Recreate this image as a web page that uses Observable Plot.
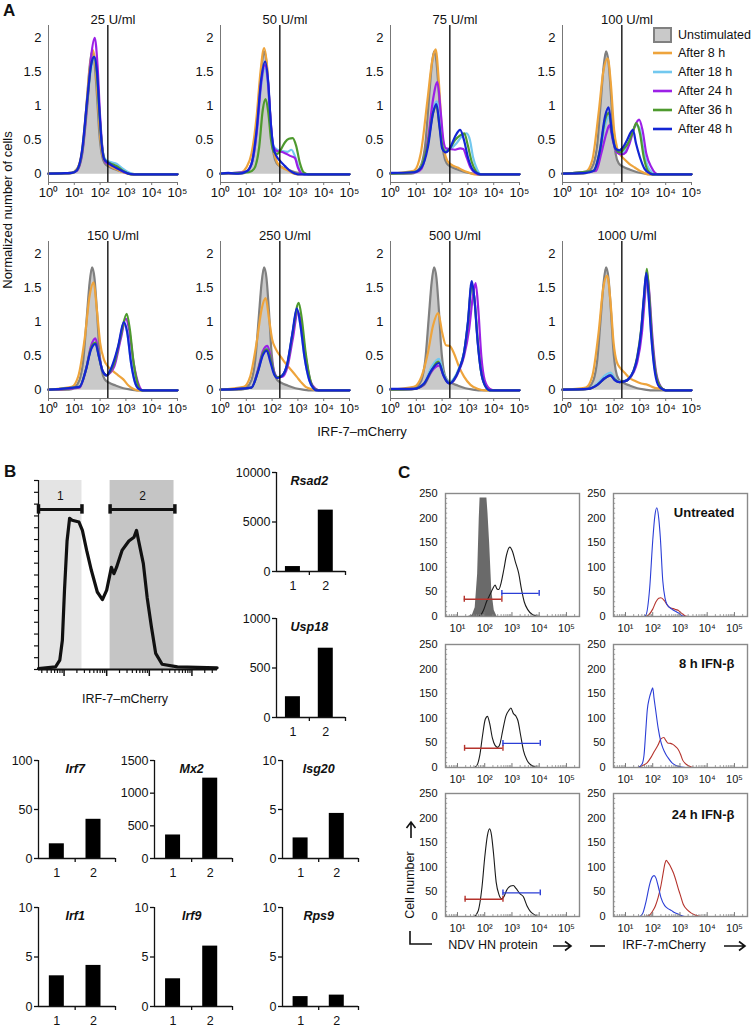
<!DOCTYPE html>
<html><head><meta charset="utf-8">
<script src="https://cdn.jsdelivr.net/npm/d3@7"></script>
<script src="https://cdn.jsdelivr.net/npm/@observablehq/plot@0.6"></script>
<style>
body{margin:0;background:#fff;}
#fig{position:relative;width:754px;height:1028px;overflow:hidden;background:#fff;font-family:"Liberation Sans",Arial,Helvetica,sans-serif;}
</style></head><body><div id="fig"></div>
<script>
// ---------------- DATA ----------------
// Panel A: x values are log10(IRF-7-mCherry), y = normalized number of cells
const doses = ["25 U/ml","50 U/ml","75 U/ml","100 U/ml","150 U/ml","250 U/ml","500 U/ml","1000 U/ml"];
const seriesNames = ["Unstimulated","After 8 h","After 18 h","After 24 h","After 36 h","After 48 h"];
const seriesColors = ["#808080","#eea43c","#72c8ef","#9c20e6","#4e9a2e","#1325d4"];
const unstimFill = "#c9c9c9";
const gateA = 2.3;
const aYTicks = [0,0.5,1,1.5,2];
const aXTicks = [0,1,2,3,4,5];

const unstim = [[0,0.005],[0.8,0.01],[1.0,0.04],[1.2,0.15],[1.35,0.45],[1.48,1.05],[1.6,1.6],[1.69,1.8],[1.78,1.65],[1.88,1.15],[1.97,0.6],[2.06,0.3],[2.18,0.16],[2.35,0.11],[2.6,0.07],[2.9,0.03],[3.2,0.01],[3.4,0],[5,0]];

const a25 = {
 h8:[[0,0.01],[0.9,0.02],[1.1,0.07],[1.3,0.35],[1.45,0.9],[1.6,1.55],[1.72,1.82],[1.82,1.6],[1.92,1.05],[2.02,0.5],[2.12,0.25],[2.3,0.15],[2.6,0.08],[2.9,0.03],[3.2,0],[5,0]],
 h18:[[0,0.01],[0.9,0.02],[1.1,0.06],[1.3,0.3],[1.5,1.05],[1.65,1.55],[1.77,1.7],[1.88,1.45],[1.98,0.85],[2.08,0.4],[2.2,0.22],[2.4,0.18],[2.65,0.15],[2.85,0.09],[3.1,0.03],[3.35,0],[5,0]],
 h24:[[0,0.01],[0.9,0.02],[1.1,0.05],[1.3,0.28],[1.5,1.0],[1.66,1.75],[1.79,2.0],[1.9,1.6],[2.0,0.85],[2.1,0.35],[2.2,0.18],[2.4,0.14],[2.7,0.08],[3.0,0.02],[3.3,0],[5,0]],
 h36:[[0,0.01],[0.9,0.02],[1.1,0.06],[1.3,0.32],[1.5,1.05],[1.65,1.6],[1.77,1.72],[1.88,1.45],[1.98,0.85],[2.08,0.4],[2.2,0.2],[2.4,0.16],[2.65,0.12],[2.9,0.05],[3.2,0],[5,0]],
 h48:[[0,0.01],[0.5,0.015],[0.9,0.02],[1.1,0.06],[1.3,0.35],[1.5,1.1],[1.65,1.6],[1.77,1.72],[1.88,1.5],[1.98,0.9],[2.06,0.45],[2.16,0.22],[2.3,0.17],[2.5,0.12],[2.7,0.08],[2.9,0.04],[3.1,0.01],[3.3,0],[5,0]]
};
const a50 = {
 h8:[[0,0.01],[0.8,0.03],[1.0,0.1],[1.2,0.3],[1.4,0.85],[1.55,1.5],[1.69,1.85],[1.8,1.6],[1.9,1.0],[2.0,0.5],[2.12,0.25],[2.3,0.12],[2.6,0.06],[2.85,0.01],[3,0],[5,0]],
 h18:[[0,0.01],[1.0,0.04],[1.2,0.15],[1.4,0.6],[1.58,1.3],[1.72,1.55],[1.84,1.3],[1.95,0.7],[2.05,0.42],[2.2,0.36],[2.4,0.34],[2.6,0.33],[2.75,0.36],[2.9,0.25],[3.05,0.08],[3.2,0],[5,0]],
 h24:[[0,0.01],[1.0,0.04],[1.2,0.15],[1.4,0.6],[1.58,1.35],[1.72,1.6],[1.84,1.35],[1.95,0.75],[2.05,0.4],[2.2,0.34],[2.35,0.33],[2.5,0.31],[2.7,0.27],[2.88,0.24],[3.0,0.1],[3.15,0.01],[3.25,0],[5,0]],
 h36:[[0,0.01],[1.1,0.03],[1.3,0.08],[1.5,0.4],[1.64,0.95],[1.75,1.1],[1.86,0.88],[1.96,0.5],[2.06,0.33],[2.2,0.3],[2.35,0.37],[2.5,0.47],[2.65,0.52],[2.8,0.53],[2.93,0.42],[3.08,0.16],[3.22,0.03],[3.4,0],[5,0]],
 h48:[[0,0.01],[0.3,0.02],[0.7,0.01],[1.0,0.04],[1.2,0.15],[1.4,0.65],[1.58,1.4],[1.73,1.65],[1.85,1.35],[1.95,0.75],[2.05,0.4],[2.15,0.28],[2.3,0.2],[2.5,0.12],[2.7,0.05],[2.9,0.01],[3.0,0],[5,0]]
};
const a75 = {
 h8:[[0,0.01],[0.9,0.05],[1.17,0.3],[1.43,1.08],[1.62,1.67],[1.75,1.83],[1.88,1.32],[2.0,0.59],[2.2,0.2],[2.4,0.13],[2.6,0.1],[2.8,0.06],[3.0,0.03],[3.25,0],[5,0]],
 h18:[[0,0.01],[1.0,0.04],[1.2,0.12],[1.45,0.45],[1.65,0.95],[1.8,1.07],[1.93,0.7],[2.03,0.42],[2.15,0.35],[2.35,0.38],[2.55,0.45],[2.75,0.55],[2.95,0.6],[3.08,0.5],[3.2,0.25],[3.35,0.08],[3.5,0],[5,0]],
 h24:[[0,0.01],[1.0,0.03],[1.2,0.08],[1.45,0.5],[1.65,1.1],[1.82,1.35],[1.95,0.9],[2.05,0.5],[2.15,0.38],[2.3,0.37],[2.5,0.36],[2.7,0.38],[2.82,0.37],[2.95,0.25],[3.1,0.1],[3.3,0.02],[3.4,0],[5,0]],
 h36:[[0,0.01],[1.0,0.04],[1.2,0.12],[1.45,0.45],[1.65,0.9],[1.78,1.0],[1.9,0.7],[2.02,0.4],[2.14,0.33],[2.3,0.38],[2.5,0.5],[2.7,0.57],[2.86,0.6],[3.0,0.42],[3.15,0.18],[3.3,0.05],[3.45,0],[5,0]],
 h48:[[0,0.02],[0.9,0.03],[1.2,0.1],[1.45,0.4],[1.65,0.9],[1.78,1.03],[1.9,0.7],[2.0,0.38],[2.14,0.32],[2.3,0.38],[2.5,0.55],[2.7,0.65],[2.85,0.5],[3.0,0.25],[3.2,0.06],[3.4,0.01],[3.5,0],[5,0]]
};
const a100 = {
 h8:[[0,0.01],[0.9,0.04],[1.15,0.2],[1.4,0.9],[1.58,1.5],[1.75,1.7],[1.88,1.3],[2.0,0.65],[2.12,0.38],[2.25,0.28],[2.4,0.22],[2.6,0.15],[2.8,0.1],[3.0,0.05],[3.18,0.02],[3.3,0],[5,0]],
 h18:[[0,0.01],[1.2,0.05],[1.45,0.3],[1.65,0.72],[1.8,0.85],[1.93,0.55],[2.07,0.34],[2.25,0.3],[2.45,0.35],[2.65,0.55],[2.85,0.72],[2.98,0.68],[3.12,0.4],[3.3,0.12],[3.5,0.02],[3.6,0],[5,0]],
 h24:[[0,0.01],[1.3,0.05],[1.5,0.3],[1.7,0.6],[1.82,0.72],[1.95,0.5],[2.1,0.32],[2.3,0.29],[2.45,0.32],[2.6,0.45],[2.8,0.7],[2.97,0.8],[3.1,0.65],[3.25,0.3],[3.45,0.1],[3.7,0],[5,0]],
 h36:[[0,0.01],[1.2,0.05],[1.45,0.35],[1.65,0.8],[1.8,0.9],[1.93,0.58],[2.07,0.36],[2.22,0.32],[2.4,0.38],[2.6,0.5],[2.75,0.65],[2.86,0.75],[3.0,0.6],[3.15,0.25],[3.3,0.06],[3.5,0],[5,0]],
 h48:[[0,0.01],[0.9,0.02],[1.2,0.05],[1.45,0.35],[1.65,0.85],[1.79,0.98],[1.92,0.6],[2.05,0.38],[2.2,0.35],[2.35,0.4],[2.5,0.5],[2.73,0.65],[2.85,0.45],[3.0,0.25],[3.18,0.08],[3.4,0.01],[3.5,0],[5,0]]
};
const a150 = {
 h8:[[0,0.01],[0.9,0.05],[1.15,0.2],[1.4,0.75],[1.6,1.4],[1.75,1.58],[1.87,1.2],[2.0,0.7],[2.15,0.45],[2.3,0.35],[2.5,0.28],[2.7,0.22],[2.9,0.16],[3.1,0.07],[3.3,0.02],[3.44,0],[5,0]],
 h18:[[0,0.01],[1.2,0.05],[1.45,0.3],[1.65,0.62],[1.82,0.7],[1.95,0.5],[2.1,0.28],[2.25,0.22],[2.4,0.28],[2.55,0.42],[2.72,0.65],[2.92,0.98],[3.05,0.85],[3.2,0.4],[3.35,0.12],[3.5,0.02],[3.65,0],[5,0]],
 h24:[[0,0.01],[1.2,0.04],[1.45,0.3],[1.65,0.65],[1.82,0.76],[1.95,0.52],[2.1,0.28],[2.25,0.22],[2.4,0.26],[2.55,0.35],[2.8,0.75],[3.0,1.05],[3.12,0.9],[3.3,0.4],[3.5,0.08],[3.65,0],[5,0]],
 h36:[[0,0.01],[1.2,0.05],[1.45,0.3],[1.65,0.62],[1.82,0.7],[1.95,0.5],[2.1,0.28],[2.25,0.22],[2.4,0.28],[2.55,0.4],[2.8,0.8],[3.03,1.12],[3.15,0.9],[3.3,0.4],[3.45,0.1],[3.6,0],[5,0]],
 h48:[[0,0.01],[1.2,0.05],[1.45,0.3],[1.65,0.6],[1.82,0.68],[1.95,0.5],[2.1,0.28],[2.25,0.22],[2.4,0.3],[2.55,0.45],[2.7,0.65],[2.92,1.0],[3.05,0.85],[3.2,0.4],[3.35,0.12],[3.5,0.02],[3.65,0],[5,0]]
};
const a250 = {
 h8:[[0,0.01],[0.9,0.05],[1.15,0.2],[1.4,0.7],[1.6,1.2],[1.75,1.35],[1.88,1.05],[2.0,0.75],[2.15,0.6],[2.34,0.49],[2.55,0.38],[2.73,0.3],[2.95,0.2],[3.12,0.12],[3.3,0.05],[3.5,0.02],[3.77,0],[5,0]],
 h18:[[0,0.01],[1.2,0.04],[1.45,0.28],[1.65,0.55],[1.8,0.62],[1.95,0.45],[2.08,0.25],[2.2,0.19],[2.4,0.22],[2.6,0.4],[2.8,0.85],[2.96,1.18],[3.1,0.95],[3.25,0.5],[3.44,0.15],[3.6,0.03],[3.75,0],[5,0]],
 h24:[[0,0.01],[1.2,0.04],[1.45,0.3],[1.65,0.58],[1.82,0.65],[1.95,0.48],[2.1,0.25],[2.22,0.19],[2.4,0.2],[2.6,0.35],[2.8,0.75],[3.0,1.15],[3.12,1.0],[3.3,0.5],[3.5,0.12],[3.7,0.02],[3.8,0],[5,0]],
 h36:[[0,0.01],[1.2,0.04],[1.45,0.28],[1.65,0.55],[1.8,0.6],[1.95,0.45],[2.08,0.25],[2.2,0.19],[2.4,0.22],[2.6,0.4],[2.8,0.85],[3.03,1.28],[3.15,1.05],[3.3,0.55],[3.48,0.15],[3.65,0.02],[3.8,0],[5,0]],
 h48:[[0,0.01],[1.2,0.04],[1.45,0.27],[1.65,0.52],[1.79,0.58],[1.93,0.42],[2.07,0.24],[2.2,0.18],[2.38,0.21],[2.58,0.38],[2.78,0.82],[2.96,1.2],[3.1,0.95],[3.25,0.5],[3.44,0.15],[3.6,0.03],[3.7,0],[5,0]]
};
const a500 = {
 h8:[[0,0.01],[0.9,0.05],[1.2,0.2],[1.45,0.55],[1.65,0.95],[1.85,1.13],[2.0,0.85],[2.15,0.66],[2.3,0.65],[2.45,0.55],[2.65,0.35],[2.85,0.2],[3.1,0.08],[3.4,0.02],[3.65,0],[5,0]],
 h18:[[0,0.01],[0.9,0.02],[1.3,0.1],[1.6,0.35],[1.88,0.46],[2.05,0.25],[2.2,0.14],[2.3,0.12],[2.45,0.17],[2.65,0.32],[2.85,0.56],[3.0,0.98],[3.15,1.55],[3.25,1.35],[3.38,0.72],[3.5,0.3],[3.65,0.08],[3.85,0],[5,0]],
 h24:[[0,0.01],[0.9,0.02],[1.3,0.08],[1.6,0.28],[1.88,0.36],[2.05,0.22],[2.2,0.12],[2.3,0.1],[2.45,0.14],[2.65,0.28],[2.85,0.5],[3.05,0.9],[3.2,1.4],[3.3,1.57],[3.4,1.2],[3.52,0.5],[3.65,0.15],[3.85,0.02],[4,0],[5,0]],
 h36:[[0,0.01],[0.9,0.02],[1.3,0.09],[1.6,0.3],[1.85,0.42],[2.05,0.23],[2.2,0.12],[2.3,0.1],[2.45,0.15],[2.65,0.3],[2.85,0.55],[3.0,0.98],[3.15,1.55],[3.25,1.35],[3.38,0.72],[3.5,0.3],[3.65,0.08],[3.85,0],[5,0]],
 h48:[[0,0.02],[0.9,0.02],[1.3,0.1],[1.6,0.3],[1.88,0.4],[2.05,0.22],[2.2,0.12],[2.3,0.1],[2.45,0.15],[2.65,0.3],[2.85,0.55],[3.0,1.0],[3.15,1.6],[3.25,1.35],[3.38,0.7],[3.5,0.3],[3.65,0.08],[3.85,0],[5,0]]
};
const a1000 = {
 h8:[[0,0.01],[0.9,0.04],[1.15,0.2],[1.4,0.85],[1.58,1.5],[1.73,1.68],[1.86,1.3],[1.98,0.7],[2.1,0.42],[2.25,0.32],[2.4,0.26],[2.6,0.18],[2.8,0.14],[3.05,0.1],[3.3,0.08],[3.55,0.04],[3.8,0.02],[4.0,0],[5,0]],
 h18:[[0,0.01],[1.0,0.02],[1.35,0.1],[1.65,0.22],[1.86,0.26],[2.02,0.18],[2.2,0.13],[2.4,0.14],[2.55,0.17],[2.75,0.28],[2.9,0.45],[3.05,0.85],[3.15,1.3],[3.25,1.7],[3.33,1.4],[3.45,0.75],[3.6,0.25],[3.8,0.05],[4,0],[5,0]],
 h24:[[0,0.01],[1.0,0.02],[1.35,0.08],[1.65,0.18],[1.86,0.22],[2.02,0.16],[2.2,0.12],[2.4,0.13],[2.55,0.16],[2.75,0.26],[2.9,0.42],[3.08,0.85],[3.18,1.3],[3.28,1.7],[3.36,1.45],[3.48,0.8],[3.62,0.28],[3.8,0.06],[4,0],[5,0]],
 h36:[[0,0.01],[1.0,0.02],[1.35,0.08],[1.65,0.18],[1.86,0.22],[2.02,0.16],[2.2,0.12],[2.4,0.13],[2.55,0.16],[2.75,0.28],[2.9,0.5],[3.05,0.9],[3.17,1.4],[3.27,1.78],[3.35,1.45],[3.47,0.75],[3.62,0.24],[3.8,0.05],[4,0],[5,0]],
 h48:[[0,0.01],[1.0,0.02],[1.35,0.08],[1.65,0.18],[1.86,0.22],[2.02,0.15],[2.2,0.12],[2.4,0.13],[2.55,0.16],[2.75,0.28],[2.9,0.48],[3.05,0.88],[3.15,1.35],[3.25,1.72],[3.33,1.42],[3.44,0.8],[3.55,0.35],[3.7,0.08],[3.85,0.02],[4,0],[5,0]]
};
const aCurves = [a25,a50,a75,a100,a150,a250,a500,a1000];

// Panel B histogram (x = log10 position, y = % of max)
const bHist = [[0.4,0.5],[0.8,1.4],[0.9,5],[0.96,15.5],[1.01,42],[1.07,68],[1.13,80],[1.19,79],[1.35,78],[1.43,73.6],[1.53,63],[1.64,52.5],[1.78,41],[1.9,37],[2.0,42],[2.11,54],[2.17,50.7],[2.23,54],[2.36,63],[2.52,68],[2.64,70],[2.7,73.6],[2.75,68],[2.86,56],[2.95,38],[3.05,22.5],[3.15,8.5],[3.3,2.8],[3.66,1.4],[4.59,0.9]];
const bGateNames = ["1","2"];
const bGateLo = [0.4, 2.08];
const bGateHi = [1.42, 3.6];
const bGateLevel = 84.7;
const bGateFill = ["#e4e4e4","#c5c5c5"];

// Panel B bar charts
const bGenes = ["Rsad2","Usp18","Irf7","Mx2","Isg20","Irf1","Irf9","Rps9"];
const bGroup1 = [500, 210, 15, 360, 2.1, 3.1, 2.8, 1.0];
const bGroup2 = [6200, 700, 40, 1230, 4.6, 4.15, 6.1, 1.15];
const bMax = [10000, 1000, 100, 1500, 10, 10, 10, 10];
const bTicks = [[0,5000,10000],[0,500,1000],[0,50,100],[0,500,1000,1500],[0,5,10],[0,5,10],[0,5,10],[0,5,10]];

// Panel C (x = log10 fluorescence, y = cell number)
const cYTicks = [0,50,100,150,200,250];
const cXTicks = [1,2,3,4,5];
const cUntreatedFill = [[1.4,0],[1.55,3],[1.65,18],[1.74,86],[1.8,200],[1.83,241],[2.08,241],[2.12,210],[2.18,150],[2.26,52],[2.35,12],[2.45,0]];
const cNdv1 = [[0.6,0],[1.75,0],[1.84,2],[1.95,12],[2.08,32],[2.2,45],[2.3,57],[2.38,64],[2.45,56],[2.52,55],[2.6,68],[2.7,95],[2.8,125],[2.92,141],[3.02,132],[3.12,112],[3.25,87],[3.35,55],[3.45,30],[3.58,14],[3.75,4],[3.9,1],[4.05,0],[5.4,0]];
const cNdv2 = [[0.6,0],[1.6,0],[1.72,5],[1.82,25],[1.92,65],[2.02,98],[2.1,104],[2.18,90],[2.28,60],[2.38,45],[2.48,41],[2.56,48],[2.66,75],[2.78,105],[2.9,117],[2.96,121],[3.05,110],[3.15,104],[3.22,95],[3.32,65],[3.42,35],[3.55,15],[3.7,5],[3.85,1],[4.0,0],[5.4,0]];
const cNdv3 = [[0.6,0],[1.6,0],[1.75,10],[1.9,60],[2.0,120],[2.1,165],[2.18,178],[2.25,165],[2.32,130],[2.42,70],[2.52,45],[2.62,36],[2.7,40],[2.82,55],[2.95,62],[3.05,63],[3.15,57],[3.3,46],[3.42,40],[3.55,22],[3.68,10],[3.82,4],[3.98,0],[5.4,0]];
const cRedGate = [[1.25,2.63,35],[1.26,2.67,39],[1.28,2.67,35]];
const cBlueGate = [[2.63,4.0,47],[2.67,4.04,49],[2.67,4.04,48]];
const cIrfBlue1 = [[0.6,0],[1.65,0],[1.75,3],[1.89,59],[2.0,154],[2.08,205],[2.15,221],[2.22,200],[2.28,160],[2.37,72],[2.45,38],[2.52,25],[2.7,15],[2.85,10],[2.95,7],[3.1,1],[3.2,0],[5.4,0]];
const cIrfRed1 = [[0.6,0],[1.75,0],[1.85,3],[2.0,15],[2.12,30],[2.22,37],[2.3,38],[2.43,32],[2.55,22],[2.63,18],[2.75,16],[2.85,14],[2.95,12],[3.03,8],[3.1,5],[3.2,1],[3.3,0],[5.4,0]];
const cIrfBlue2 = [[0.6,0],[1.45,0],[1.6,6],[1.68,25],[1.74,70],[1.8,117],[1.87,140],[1.95,155],[2.0,162],[2.05,140],[2.1,120],[2.2,80],[2.3,52],[2.37,40],[2.47,28],[2.56,20],[2.7,10],[2.85,4],[3.05,1],[3.2,0],[5.4,0]];
const cIrfRed2 = [[0.6,0],[1.44,0],[1.67,5],[1.8,10],[1.93,20],[2.05,32],[2.19,45],[2.3,58],[2.41,61],[2.48,55],[2.55,50],[2.65,49],[2.74,47],[2.85,42],[2.93,37],[3.02,27],[3.1,15],[3.2,8],[3.3,4],[3.52,0],[5.4,0]];
const cIrfBlue3 = [[0.6,0],[1.5,0],[1.62,5],[1.76,32],[1.89,66],[1.98,80],[2.05,83],[2.12,78],[2.2,62],[2.3,39],[2.44,22],[2.56,16],[2.69,12],[2.8,8],[2.93,5],[3.05,2],[3.18,0],[5.4,0]];
const cIrfRed3 = [[0.6,0],[1.7,0],[1.82,1],[1.92,5],[2.01,12],[2.1,22],[2.2,39],[2.3,62],[2.38,87],[2.45,108],[2.5,114],[2.56,110],[2.63,104],[2.7,96],[2.75,90],[2.87,70],[2.93,58],[3.0,46],[3.12,25],[3.3,12],[3.55,3],[3.8,0],[5.4,0]];
const cConditions = ["Untreated","8 h IFN-β","24 h IFN-β"];

// ---------------- RENDER ----------------
const FONT = '"Liberation Sans", Arial, Helvetica, sans-serif';
const fig = document.getElementById("fig");
const SUP = {0:"\u2070",1:"\u00B9",2:"\u00B2",3:"\u00B3",4:"\u2074",5:"\u2075"};
const pow10 = d => "10" + SUP[d];
const px = d => d[0], py = d => d[1];
function place(el, left, top) {
  el.style.position = "absolute";
  el.style.left = left + "px";
  el.style.top = top + "px";
  el.style.maxWidth = "none";
  fig.appendChild(el);
}
function st(fs) { return {fontFamily: FONT, fontSize: fs, background: "none", overflow: "visible", color: "#111"}; }

// Panel A
const aLeft = [48, 220, 390, 562], aTop = [25, 241];
const aKeys = ["h8","h18","h24","h36","h48"];
doses.forEach((dose, i) => {
  const c = aCurves[i];
  const FW = 129, FH = 157, ml = 34, mr = 8, mt = 22, mb = 26;
  const yDom = [-0.12, 2.18];
  const p = Plot.plot({
    width: FW + ml + mr, height: FH + mt + mb,
    marginLeft: ml, marginRight: mr, marginTop: mt, marginBottom: mb,
    x: {domain: [0, 5], axis: null}, y: {domain: yDom, axis: null},
    style: st("13px"),
    marks: [
      Plot.areaY(unstim, {x: px, y: py, fill: unstimFill, curve: "monotone-x"}),
      Plot.lineY(unstim, {x: px, y: py, stroke: seriesColors[0], strokeWidth: 2.2, curve: "monotone-x"}),
      ...aKeys.map((k, j) => Plot.lineY(c[k], {x: px, y: py, stroke: seriesColors[j + 1], strokeWidth: 2.2, curve: "monotone-x"})),
      Plot.ruleX([gateA], {stroke: "#000", strokeWidth: 1.3}),
      Plot.ruleX([0], {stroke: "#777", strokeWidth: 1}),
      Plot.ruleY([yDom[0]], {stroke: "#777", strokeWidth: 1}),
      Plot.axisX({ticks: aXTicks, tickFormat: pow10, tickSize: 3, tickPadding: 2, label: null, stroke: "#777"}),
      Plot.axisY({ticks: aYTicks, tickFormat: d => String(d), tickSize: 0, tickPadding: 7, label: null}),
      Plot.text([dose], {text: d => d, frameAnchor: "top", dy: -11, fontSize: 13})
    ]
  });
  place(p, aLeft[i % 4] - ml, aTop[Math.floor(i / 4)] - mt);
});

// Panel B histogram
{
  const FW = 179, FH = 189, ml = 10, mr = 6, mt = 6, mb = 14;
  const dom = [0.4, 4.6];
  const majors = [1, 2, 3, 4];
  const minors = [];
  for (let n = 0; n < 5; n++) for (let k = 2; k <= 9; k++) { const v = n + Math.log10(k); if (v > dom[0] && v < dom[1]) minors.push(v); }
  const yt = d3.range(0, 100.01, 6.25);
  const gates = bGateNames.map((g, i) => ({g, lo: bGateLo[i], hi: bGateHi[i], fill: bGateFill[i]}));
  const caps = gates.flatMap(d => [d.lo, d.hi]);
  const p = Plot.plot({
    width: FW + ml + mr, height: FH + mt + mb,
    marginLeft: ml, marginRight: mr, marginTop: mt, marginBottom: mb,
    x: {domain: dom, axis: null}, y: {domain: [0, 100], axis: null},
    style: st("13px"),
    marks: [
      Plot.rect(gates, {x1: d => Math.max(d.lo, 0.42), x2: d => Math.min(d.hi, 3.58), y1: 0, y2: 100, fill: d => d.fill}),
      Plot.ruleY(gates, {x1: "lo", x2: "hi", y: bGateLevel, stroke: "#111", strokeWidth: 3}),
      Plot.ruleX(caps, {x: d => d, y1: bGateLevel - 2.5, y2: bGateLevel + 2.5, stroke: "#111", strokeWidth: 3.5}),
      Plot.text(gates, {x: d => (d.lo + d.hi) / 2, y: 91.5, text: "g", fontSize: 12}),
      Plot.line(bHist, {x: px, y: py, stroke: "#111", strokeWidth: 3.2, strokeLinejoin: "round"}),
      Plot.ruleX([dom[0]], {stroke: "#111", strokeWidth: 1.2}),
      Plot.ruleY([0], {stroke: "#111", strokeWidth: 2}),
      Plot.axisY({ticks: yt, tickSize: 4, tickFormat: () => "", label: null, strokeWidth: 1.2}),
      Plot.axisX({ticks: majors, tickSize: 7, tickFormat: () => "", label: null, strokeWidth: 1.5}),
      Plot.axisX({ticks: minors, tickSize: 4, tickFormat: () => "", label: null, strokeWidth: 1.2})
    ]
  });
  place(p, 38 - ml, 480 - mt);
}

// Panel B bar charts
const bFrames = [[276,472,69,99],[276,618,69,99],[38,760,77,98],[154,760,78,98],[282,760,76,98],[38,907,77,99],[154,907,78,99],[282,907,76,99]];
bGenes.forEach((g, i) => {
  const [fl, ft, FW, FH] = bFrames[i];
  const ml = 40, mr = 6, mt = 8, mb = 26;
  const data = [{cat: 1, v: bGroup1[i]}, {cat: 2, v: bGroup2[i]}];
  const xd = [0.5, 2.6];
  const inset = (FW / (xd[1] - xd[0]) - 15) / 2;
  const p = Plot.plot({
    width: FW + ml + mr, height: FH + mt + mb,
    marginLeft: ml, marginRight: mr, marginTop: mt, marginBottom: mb,
    x: {domain: xd, axis: null}, y: {domain: [0, bMax[i]], axis: null},
    style: st("12.5px"),
    marks: [
      Plot.rectY(data, {x1: d => d.cat - 0.5, x2: d => d.cat + 0.5, y: "v", fill: "#000", insetLeft: inset, insetRight: inset}),
      Plot.ruleX([xd[0]], {stroke: "#111", strokeWidth: 1.3}),
      Plot.ruleY([0], {stroke: "#111", strokeWidth: 1.3}),
      Plot.axisY({ticks: bTicks[i], tickFormat: d => String(d), tickSize: 4, tickPadding: 2, label: null, strokeWidth: 1.3}),
      Plot.axisX({ticks: [1.5, 2.6], tickFormat: () => "", tickSize: 4, label: null, strokeWidth: 1.3}),
      Plot.axisX({ticks: [1, 2], tickFormat: d => String(d), tickSize: 0, tickPadding: 10, label: null}),
      Plot.text([g], {text: d => d, x: () => 1.5, frameAnchor: "top", dy: 4, fontWeight: "bold", fontStyle: "italic", fontSize: 12.5})
    ]
  });
  place(p, fl - ml, ft - mt);
});

// Panel C
const cDom = [0.56, 5.48];
const cMinor = [];
for (let n = 0; n < 6; n++) for (let k = 2; k <= 9; k++) { const v = n + Math.log10(k); if (v > cDom[0] && v < cDom[1]) cMinor.push(v); }
const cTops = [493, 644, 793];
function panelC(fl, ft, marks, label, labelDy) {
  const FW = 134, FH = 123, ml = 36, mr = 6, mt = 8, mb = 24;
  const p = Plot.plot({
    width: FW + ml + mr, height: FH + mt + mb,
    marginLeft: ml, marginRight: mr, marginTop: mt, marginBottom: mb,
    x: {domain: cDom, axis: null}, y: {domain: [0, 250], axis: null},
    style: st("11px"),
    marks: [
      ...marks,
      Plot.ruleX(cXTicks, {x: d => d, y1: 0, y2: 8, stroke: "#777", strokeWidth: 1}),
      Plot.ruleX(cMinor, {x: d => d, y1: 0, y2: 4, stroke: "#888", strokeWidth: 0.8}),
      Plot.ruleY(d3.range(10, 250, 10), {y: d => d, x1: cDom[0], x2: cDom[0] + 0.08, stroke: "#888", strokeWidth: 0.8}),
      Plot.frame({stroke: "#8a8a8a", strokeWidth: 1.4}),
      Plot.axisY({ticks: cYTicks, tickFormat: d => String(d), tickSize: 0, tickPadding: 8, label: null}),
      Plot.axisX({ticks: cXTicks, tickFormat: pow10, tickSize: 0, tickPadding: 8, label: null}),
      ...(label ? [Plot.text([label], {text: d => d, frameAnchor: "top-right", dx: -13, dy: labelDy, fontWeight: "bold", fontSize: 13, textAnchor: "end"})] : [])
    ]
  });
  place(p, fl - ml, ft - mt);
}
const cBlack = "#1a1a1a", cBlue = "#2b3ed6", cRed = "#b5332c";
[cNdv1, cNdv2, cNdv3].forEach((curve, r) => {
  const marks = [];
  if (r === 0) marks.push(Plot.areaY(cUntreatedFill, {x: px, y: py, fill: "#6a6a6a", curve: "linear"}));
  marks.push(Plot.lineY(curve, {x: px, y: py, stroke: cBlack, strokeWidth: 1.1, curve: "monotone-x"}));
  const rg = cRedGate[r], bg = cBlueGate[r];
  const gates = [{lo: rg[0], hi: rg[1], y: rg[2], c: cRed}, {lo: bg[0], hi: bg[1], y: bg[2], c: cBlue}];
  marks.push(Plot.ruleY(gates, {x1: "lo", x2: "hi", y: "y", stroke: "c", strokeWidth: 1.4}));
  marks.push(Plot.ruleX(gates.flatMap(g => [{x: g.lo, y: g.y, c: g.c}, {x: g.hi, y: g.y, c: g.c}]), {x: "x", y1: d => d.y - 6, y2: d => d.y + 6, stroke: "c", strokeWidth: 1.4}));
  panelC(445, cTops[r], marks, null, 0);
});
[[cIrfBlue1, cIrfRed1], [cIrfBlue2, cIrfRed2], [cIrfBlue3, cIrfRed3]].forEach(([b, rd], r) => {
  const marks = [
    Plot.lineY(rd, {x: px, y: py, stroke: cRed, strokeWidth: 1.1, curve: "monotone-x"}),
    Plot.lineY(b, {x: px, y: py, stroke: cBlue, strokeWidth: 1.1, curve: "monotone-x"})
  ];
  panelC(613, cTops[r], marks, cConditions[r], r === 2 ? 16 : 14);
});

// ---------------- Annotations ----------------
const ov = d3.select(fig).append("svg")
  .attr("width", 754).attr("height", 1028)
  .style("position", "absolute").style("left", 0).style("top", 0)
  .style("pointer-events", "none").style("font-family", FONT);
function txt(x, y, s, o = {}) {
  const t = ov.append("text").attr("x", x).attr("y", y).attr("dominant-baseline", "middle")
    .attr("font-size", o.size || 13).attr("text-anchor", o.anchor || "start").attr("fill", "#111").text(s);
  if (o.bold) t.attr("font-weight", "bold");
  if (o.rotate) t.attr("transform", `rotate(${o.rotate},${x},${y})`);
  return t;
}
txt(3, 12, "A", {size: 17, bold: true});
txt(4, 473, "B", {size: 17, bold: true});
txt(398, 474, "C", {size: 17, bold: true});
txt(9, 210, "Normalized number of cells", {size: 13, anchor: "middle", rotate: -90});
txt(362, 433, "IRF-7\u2013mCherry", {size: 13, anchor: "middle"});
txt(125, 700, "IRF-7\u2013mCherry", {size: 12.5, anchor: "middle"});

// legend
const legY = [35, 53, 72, 91, 110, 129];
seriesNames.forEach((s, i) => {
  if (i === 0) {
    ov.append("rect").attr("x", 654).attr("y", legY[0] - 7).attr("width", 17).attr("height", 14)
      .attr("fill", unstimFill).attr("stroke", seriesColors[0]).attr("stroke-width", 2);
  } else {
    ov.append("line").attr("x1", 653).attr("x2", 672).attr("y1", legY[i]).attr("y2", legY[i])
      .attr("stroke", seriesColors[i]).attr("stroke-width", 2.6);
  }
  txt(678, legY[i] + 1, s, {size: 12.5});
});

// Panel C axis labels
function arrowH(x1, x2, y) {
  ov.append("path").attr("d", `M${x1},${y}H${x2}M${x2 - 6},${y - 4.5}L${x2},${y}L${x2 - 6},${y + 4.5}`)
    .attr("fill", "none").attr("stroke", "#111").attr("stroke-width", 1.6);
}
ov.append("path").attr("d", "M410,931V944H432").attr("fill", "none").attr("stroke", "#111").attr("stroke-width", 1.6);
txt(493, 946, "NDV HN protein", {size: 12.5, anchor: "middle"});
arrowH(553, 571, 946);
ov.append("path").attr("d", "M590,946H605").attr("stroke", "#111").attr("stroke-width", 1.6);
txt(664, 946, "IRF-7-mCherry", {size: 12.5, anchor: "middle"});
arrowH(724, 745, 946);
txt(411, 885, "Cell number", {size: 12.5, anchor: "middle", rotate: -90});
ov.append("path").attr("d", "M411,838V822M406.5,828L411,822L415.5,828").attr("fill", "none").attr("stroke", "#111").attr("stroke-width", 1.6);
</script></body></html>
